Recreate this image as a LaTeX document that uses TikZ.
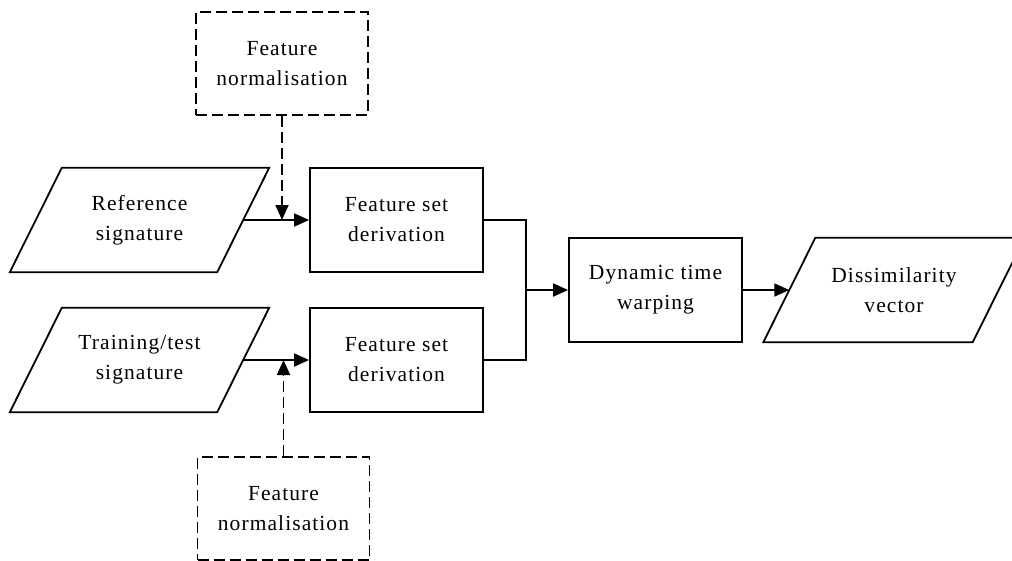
\documentclass[tikz,border=0pt]{standalone}
\usepackage{fontspec}
\setmainfont{Liberation Serif}
\usetikzlibrary{arrows.meta,calc}

% slanted input/output frame drawn around a named (invisible) node
\newcommand\ioframe[1]{%
  \draw[line] ($(#1.south west)+(-26,0)$) -- ($(#1.north west)+(26,0)$)
    -- ($(#1.north east)+(26,0)$) -- ($(#1.south east)+(-26,0)$) -- cycle;}

\begin{document}
\begin{tikzpicture}[x=1pt,y=-1pt,
  line/.style={line width=1.8pt, draw=black},
  lbl/.style={align=center, inner sep=0pt,
    font=\fontsize{21.5}{30}\selectfont\addfontfeature{LetterSpace=5}},
  proc/.style={lbl, line, rectangle, minimum width=173pt, minimum height=104pt},
  normbox/.style={lbl, line, dash pattern=on 11pt off 5pt, rectangle,
    minimum width=172pt, minimum height=103pt},
  io/.style={lbl, rectangle, minimum height=104pt},
  arr/.style={line, -{Triangle[length=15pt,width=13pt]}},
  darr/.style={arr, dash pattern=on 11pt off 5pt}]
\clip (0,0) rectangle (1012,560);
\fill[white] (0,0) rectangle (1012,560);

% inputs
\node[io, minimum width=207pt] (ref) at (139.5,220) {Reference\\signature};
\node[io, minimum width=207pt] (trn) at (139.5,360) {Training/test\\signature};
\ioframe{ref}
\ioframe{trn}

% normalisation blocks
\node[normbox] (norm1) at (282,63.5) {Feature\\normalisation};
\node[normbox] (norm2) at (283.5,508.5) {Feature\\normalisation};

% processing blocks
\node[proc] (fsd1) at (396.5,220) {Feature set\\derivation};
\node[proc] (fsd2) at (396.5,360) {Feature set\\derivation};
\node[proc] (dtw) at (655.5,290) {Dynamic time\\warping};

% output
\node[io, minimum width=209pt] (diss) at (894,290) {Dissimilarity\\vector};
\ioframe{diss}

\coordinate (jn) at (526,290);

% connectors
\draw[arr] (ref.east) -- (fsd1.west);
\draw[arr] (trn.east) -- (fsd2.west);
\draw[darr] (norm1.south) -- (norm1.south |- ref.east);
\draw[darr] (norm2.north) -- (norm2.north |- trn.east);
\draw[line] (fsd1.east) -| (jn);
\draw[line] (fsd2.east) -| (jn);
\draw[arr] (jn) -- (dtw.west);
\draw[arr] (dtw.east) -- (diss.west);
\end{tikzpicture}
\end{document}
